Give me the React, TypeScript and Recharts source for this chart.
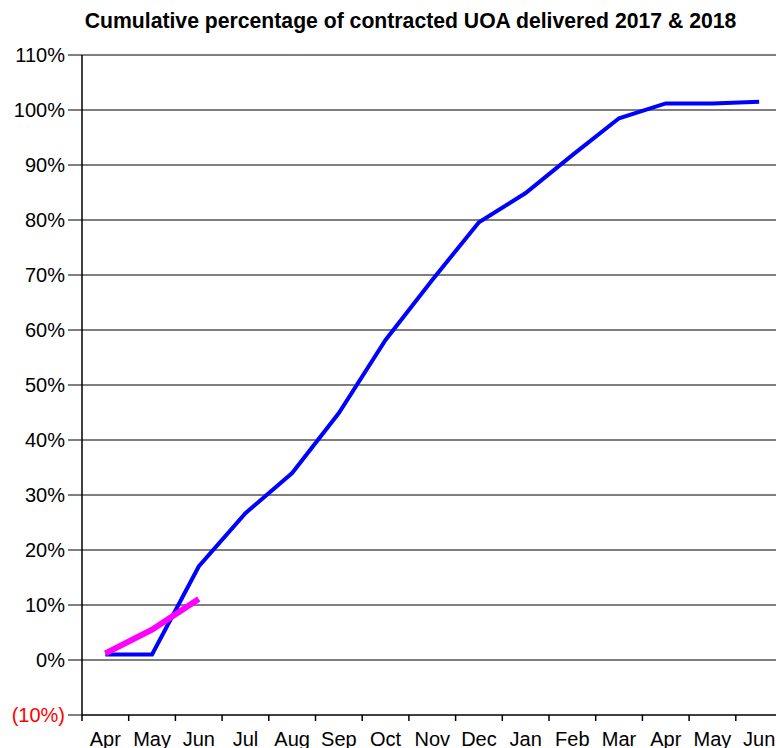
import React from "react";
import { LineChart, Line, XAxis, YAxis, CartesianGrid } from "recharts";

const months = ["Apr", "May", "Jun", "Jul", "Aug", "Sep", "Oct", "Nov", "Dec", "Jan", "Feb", "Mar", "Apr", "May", "Jun"];
const delivered2017 = [1, 1, 17, 26.7, 34, 44.9, 58.2, 69.1, 79.6, 84.9, 91.8, 98.5, 101.2, 101.2, 101.5];
const delivered2018: (number | null)[] = [1.2, 5.5, 11.1, null, null, null, null, null, null, null, null, null, null, null, null];
const yTicks = [-10, 0, 10, 20, 30, 40, 50, 60, 70, 80, 90, 100, 110];
const xTicks = months.map((_, i) => i);

const data = months.map((m, i) => ({
  x: i + 0.5,
  month: m,
  a: delivered2017[i],
  b: delivered2018[i],
}));

const FONT = "'Liberation Sans', Arial, sans-serif";

const YTick = (props: any) => {
  const { x, y, payload } = props;
  const v = payload.value as number;
  const label = v < 0 ? `(${Math.abs(v)}%)` : `${v}%`;
  return (
    <text x={x - 1} y={y} dy={7} textAnchor="end" fontSize={20} fontFamily={FONT} fill={v < 0 ? "#ff0000" : "#000"}>
      {label}
    </text>
  );
};

const XTick = (props: any) => {
  const { x, y, payload, band } = props;
  const idx = payload.value as number;
  return (
    <text x={x + band / 2} y={y} dy={23} textAnchor="middle" fontSize={20} fontFamily={FONT} fill="#000">
      {months[idx]}
    </text>
  );
};

export default function App() {
  const width = 790;
  const height = 761;
  const left = 82;
  const right = 7.5;
  const plotW = width - left - right;
  const band = plotW / months.length;
  return (
    <div style={{ position: "absolute", left: 0, top: 0, width: 776, height: 748, overflow: "hidden", background: "#fff" }}>
      <div
        style={{
          position: "absolute",
          left: 0,
          top: 9,
          width: 821,
          textAlign: "center",
          fontFamily: FONT,
          fontWeight: "bold",
          fontSize: 21.2,
          lineHeight: "24px",
          color: "#000",
          whiteSpace: "nowrap",
        }}
      >
        Cumulative percentage of contracted UOA delivered 2017 &amp; 2018
      </div>
      <LineChart width={width} height={height} data={data} margin={{ top: 55, right: right, bottom: 0, left: 0 }}>
        <CartesianGrid vertical={false} stroke="#000" strokeWidth={1} horizontalValues={yTicks.filter((t) => t >= 0)} />
        <XAxis
          dataKey="x"
          type="number"
          domain={[0, months.length]}
          ticks={xTicks}
          interval={0}
          height={46}
          axisLine={{ stroke: "#000", strokeWidth: 1.5 }}
          tickLine={{ stroke: "#000", strokeWidth: 1.5 }}
          tickSize={6}
          tick={<XTick band={band} />}
          allowDataOverflow
        />
        <YAxis
          type="number"
          domain={[-10, 110]}
          ticks={yTicks}
          interval={0}
          width={left}
          axisLine={{ stroke: "#000", strokeWidth: 1.5 }}
          tickLine={{ stroke: "#000", strokeWidth: 1 }}
          tickSize={14}
          tick={<YTick />}
        />
        <Line
          type="linear"
          dataKey="a"
          stroke="#0000ff"
          strokeWidth={4}
          dot={false}
          isAnimationActive={false}
        />
        <Line
          type="linear"
          dataKey="b"
          stroke="#ff00ff"
          strokeWidth={6}
          dot={false}
          isAnimationActive={false}
          connectNulls={false}
        />
      </LineChart>
    </div>
  );
}
